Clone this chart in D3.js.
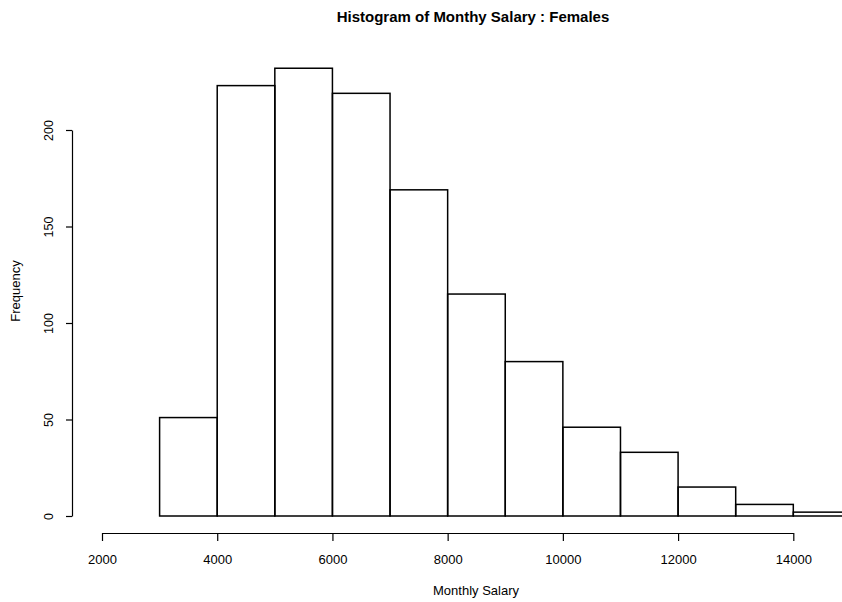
<!DOCTYPE html>
<html>
<head>
<meta charset="utf-8">
<script src="https://cdn.jsdelivr.net/npm/d3@7"></script>
<style>
  html, body { margin: 0; padding: 0; background: #fff; }
  svg { display: block; font-family: "Liberation Sans", Arial, Helvetica, sans-serif; }
</style>
</head>
<body>
<svg id="chart" width="842" height="602"></svg>
<script>
const binStarts = [3000, 4000, 5000, 6000, 7000, 8000, 9000, 10000, 11000, 12000, 13000, 14000];
const binWidth = 1000;
const frequencies = [51, 223, 232, 219, 169, 115, 80, 46, 33, 15, 6, 2];
const xTicks = [2000, 4000, 6000, 8000, 10000, 12000, 14000];
const yTicks = [0, 50, 100, 150, 200];
const titleText = "Histogram of Monthy Salary : Females";
const xLabel = "Monthly Salary";
const yLabel = "Frequency";

const svg = d3.select("#chart");
const x = d3.scaleLinear().domain([2000, 14000]).range([102, 793.3]);
const y = d3.scaleLinear().domain([0, 200]).range([516, 130]);

// bars
svg.append("g").selectAll("rect")
  .data(binStarts.map((s, i) => ({ s, f: frequencies[i] })))
  .join("rect")
  .attr("x", d => x(d.s))
  .attr("y", d => y(d.f))
  .attr("width", d => x(d.s + binWidth) - x(d.s))
  .attr("height", d => y(0) - y(d.f))
  .attr("fill", "none")
  .attr("stroke", "#000")
  .attr("stroke-width", 1.5);

// x axis
const xAxis = d3.axisBottom(x).tickValues(xTicks).tickSize(8).tickSizeOuter(0).tickFormat(d3.format("d"));
const gx = svg.append("g").attr("transform", "translate(0,533)").call(xAxis);
gx.select(".domain").attr("stroke-width", 1.2);
gx.selectAll(".tick line").attr("stroke-width", 1.2);
gx.selectAll(".tick text").attr("font-size", 13).attr("font-family", "Liberation Sans, Arial, sans-serif")
  .attr("fill", "#000").attr("dy", null).attr("y", 31);

// y axis
const yAxis = d3.axisLeft(y).tickValues(yTicks).tickSize(6).tickSizeOuter(0);
const gy = svg.append("g").attr("transform", "translate(72,0)").call(yAxis);
gy.select(".domain").attr("stroke-width", 1.2);
gy.selectAll(".tick line").attr("stroke-width", 1.2);
gy.selectAll(".tick text")
  .attr("font-size", 12.5).attr("font-family", "Liberation Sans, Arial, sans-serif").attr("fill", "#000")
  .attr("x", null).attr("dy", null).attr("y", null)
  .attr("text-anchor", "middle")
  .attr("transform", "translate(-19,0) rotate(-90)");

// title
svg.append("text")
  .attr("x", 473).attr("y", 22)
  .attr("text-anchor", "middle")
  .attr("font-size", 15).attr("font-weight", "bold")
  .text(titleText);

// x label
svg.append("text")
  .attr("x", 476).attr("y", 595)
  .attr("text-anchor", "middle")
  .attr("font-size", 13)
  .text(xLabel);

// y label
svg.append("text")
  .attr("transform", "translate(20,291) rotate(-90)")
  .attr("text-anchor", "middle")
  .attr("font-size", 13)
  .text(yLabel);
</script>
</body>
</html>
